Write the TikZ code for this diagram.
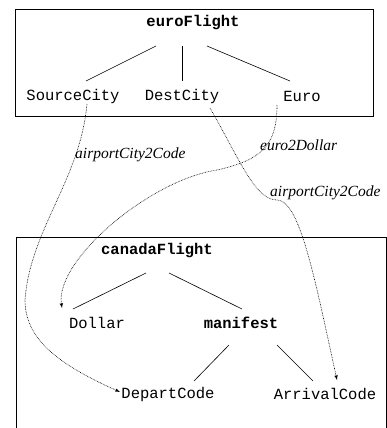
\documentclass[tikz,border=0pt]{standalone}
\usepackage{fontspec}
\setmainfont{Liberation Serif}
\setmonofont{Liberation Mono}
\usetikzlibrary{arrows}

\begin{document}
\begin{tikzpicture}[x=1pt, y=-1pt]
\tikzset{term/.style={font=\fontsize{15.5}{18}\selectfont\ttfamily, inner sep=1pt},
         head/.style={term, font=\fontsize{15.5}{18}\selectfont\ttfamily\bfseries},
         fn/.style={font=\fontsize{15.5}{18}\selectfont\itshape, inner sep=0pt, anchor=west},
         branch/.style={line width=0.6pt},
         frame/.style={line width=0.7pt},
         map/.style={line width=0.6pt, dash pattern=on 0.7pt off 0.9pt, -latex}}
  \useasboundingbox (0,0) rectangle (387,428);

  % source schema
  \draw[frame] (15,9) rectangle (373,116);
  \node[head] (eF)  at (193,23) {euroFlight};
  \node[term] (src) at (73,96)  {SourceCity};
  \node[term] (dst) at (182,96) {DestCity};
  \node[term] (eur) at (302,96) {Euro};

  \draw[branch] ([shift={(-37,23)}]eF.center) -- ([shift={(13,-15)}]src.center);
  \draw[branch] ([shift={(-11,23)}]eF.center) -- ([shift={(0,-15)}]dst.center);
  \draw[branch] ([shift={(14,23)}]eF.center)  -- ([shift={(-12,-15)}]eur.center);

  % target schema
  \draw[frame] (16,432) |- (386,237) -- (386,432);
  \node[head] (cF)  at (157,251) {canadaFlight};
  \node[term] (dol) at (97,323)  {Dollar};
  \node[head] (man) at (241,323) {manifest};
  \node[term] (dep) at (168,394) {DepartCode};
  \node[term] (arr) at (325,394) {ArrivalCode};

  \draw[branch] ([shift={(-11,22)}]cF.center) -- ([shift={(-24,-14)}]dol.center);
  \draw[branch] ([shift={(12,22)}]cF.center)  -- ([shift={(1,-14)}]man.center);
  \draw[branch] ([shift={(-12,22)}]man.center) -- ([shift={(26,-13)}]dep.center);
  \draw[branch] ([shift={(36,22)}]man.center)  -- ([shift={(-12,-13)}]arr.center);

  % mappings
  \draw[map] ([shift={(14,8)}]src.center) .. controls (80,180) and (30,230) .. (25,300)
                                   .. controls (25,340) and (60,365) .. ([shift={(-48,-2)}]dep.center);
  \draw[map] ([shift={(-25,9)}]eur.center) .. controls (277,145) and (262,160) .. (217,170)
                                    .. controls (150,180) and (55,260) .. ([shift={(-35,-15)}]dol.center);
  \draw[map] ([shift={(28,12)}]dst.center) .. controls (240,160) and (255,200) .. (277,200)
                                    .. controls (300,200) and (315,280) .. ([shift={(12,-14)}]arr.center);

  \node[fn] (f1) at (75,155)  {airportCity2Code};
  \node[fn] (f2) at (260,145) {euro2Dollar};
  \node[fn] (f3) at (270,193) {airportCity2Code};
\end{tikzpicture}
\end{document}
